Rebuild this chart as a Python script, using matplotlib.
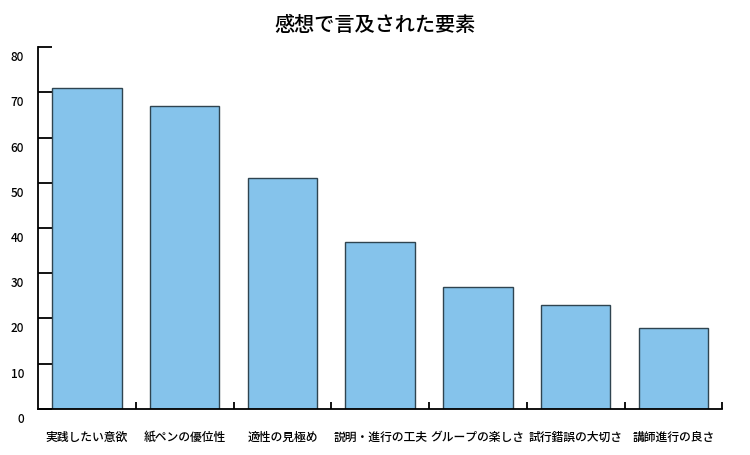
import matplotlib
matplotlib.use("Agg")
import matplotlib.pyplot as plt
import matplotlib.transforms as mtrans
import numpy as np

plt.rcParams['font.family'] = ['Noto Sans CJK JP', 'DejaVu Sans']

categories = ["実践したい意欲", "紙ペンの優位性", "適性の見極め", "説明・進行の工夫",
              "グループの楽しさ", "試行錯誤の大切さ", "講師進行の良さ"]
values = [71, 67, 51, 37, 27, 23, 18]
yticks = [0, 10, 20, 30, 40, 50, 60, 70, 80]
title = "感想で言及された要素"

fig = plt.figure(figsize=(7.5, 4.56), dpi=100)
ax = fig.add_axes([0.0507, 0.1009, 0.963 - 0.0507, 0.8947 - 0.1009])

x = np.arange(len(categories))
ax.bar(x, values, width=0.71, color="#85C3EB", edgecolor="#2f4450", linewidth=1.0, zorder=2)

ax.set_xlim(-0.5, len(categories) - 0.5)
ax.set_ylim(0, 80)
ax.set_yticks(yticks)
ax.set_yticklabels([str(t) for t in yticks], fontsize=8.5, fontweight="medium")
ax.set_xticks(x)
ax.set_xticklabels(categories, fontsize=8.5, fontweight="medium")
ax.set_xticks(np.arange(len(categories)) + 0.5, minor=True)

for s in ["top", "right"]:
    ax.spines[s].set_visible(False)
for s in ["left", "bottom"]:
    ax.spines[s].set_linewidth(1.3)
    ax.spines[s].set_color("black")

ax.tick_params(axis="y", direction="in", length=10, width=1.3, pad=10, colors="black")
ax.tick_params(axis="x", which="major", length=0, pad=15)
ax.tick_params(axis="x", which="minor", direction="in", length=5, width=1.3)

offset = mtrans.ScaledTranslation(0, -8 / 100, fig.dpi_scale_trans)
for lab in ax.get_yticklabels():
    lab.set_transform(lab.get_transform() + offset)

fig.text(0.5, 1 - 25 / 456, title, ha="center", va="center", fontsize=14.5, fontweight="medium")

fig.savefig("out.png", dpi=100)
